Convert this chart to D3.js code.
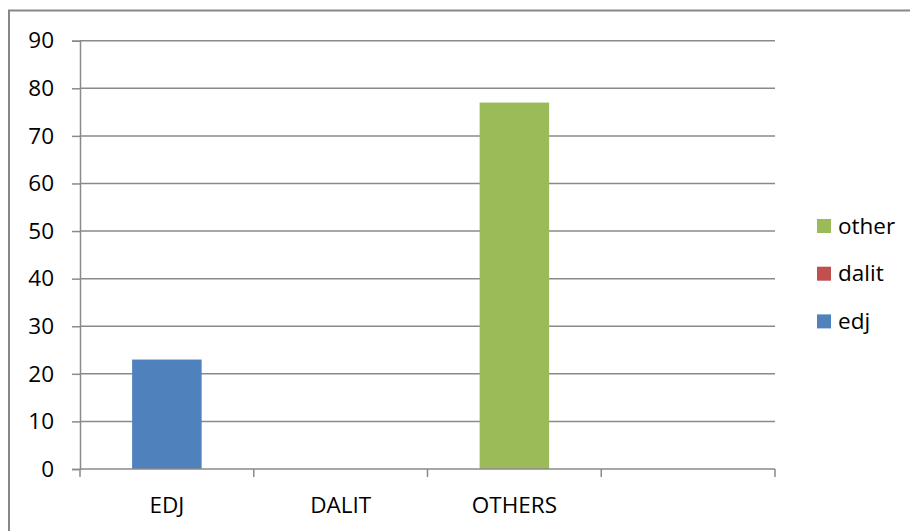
<!DOCTYPE html>
<html>
<head>
<meta charset="utf-8">
<script src="https://cdn.jsdelivr.net/npm/d3@7"></script>
<style>
  html, body { margin: 0; padding: 0; background: #fff; }
  svg { display: block; font-family: "Open Sans", "Noto Sans", sans-serif; }
</style>
</head>
<body>
<svg id="chart" width="910" height="531"></svg>
<script>
// Categories on the x axis (the fourth slot is empty)
const categories = ["EDJ", "DALIT", "OTHERS", ""];
// Stacked series values, one per category
const edj   = [23, 0, 0, 0];
const dalit = [0, 0, 0, 0];
const other = [0, 0, 77, 0];
const seriesNames = ["edj", "dalit", "other"];
const seriesColors = ["#4F81BD", "#C0504D", "#9BBB59"];
const yTicks = [0, 10, 20, 30, 40, 50, 60, 70, 80, 90];

const svg = d3.select("#chart");
const W = 910, H = 531;
const plot = { left: 80, right: 775, top: 40.7, bottom: 469 };

// Outer chart frame
svg.append("rect")
  .attr("x", 9).attr("y", 10.5)
  .attr("width", W + 10).attr("height", H + 10)
  .attr("fill", "#fff").attr("stroke", "#878787").attr("stroke-width", 2);

const x = d3.scaleBand().domain(d3.range(categories.length))
  .range([plot.left, plot.right]).padding(0);
const y = d3.scaleLinear().domain([0, 90]).range([plot.bottom, plot.top]);

// Horizontal gridlines
svg.append("g").selectAll("line").data(yTicks.filter(d => d > 0)).join("line")
  .attr("x1", plot.left).attr("x2", plot.right)
  .attr("y1", d => y(d)).attr("y2", d => y(d))
  .attr("stroke", "#8a8a8a").attr("stroke-width", 1.5);

// Stacked bars
const rows = categories.map((c, i) => ({ i, edj: edj[i], dalit: dalit[i], other: other[i] }));
const stacked = d3.stack().keys(seriesNames)(rows);
const barW = x.bandwidth() * 0.4;
stacked.forEach((layer, k) => {
  svg.append("g").selectAll("rect").data(layer.filter(d => d[1] - d[0] > 0)).join("rect")
    .attr("x", d => x(d.data.i) + (x.bandwidth() - barW) / 2)
    .attr("width", barW)
    .attr("y", d => y(d[1]))
    .attr("height", d => y(d[0]) - y(d[1]))
    .attr("fill", seriesColors[k]);
});

// Y axis
const yAxis = d3.axisLeft(y).tickValues(yTicks).tickSize(8).tickPadding(18);
const gy = svg.append("g").attr("transform", `translate(${plot.left},0)`).call(yAxis);
gy.select(".domain").attr("stroke", "#8a8a8a").attr("stroke-width", 1.5);
gy.selectAll(".tick line").attr("stroke", "#8a8a8a").attr("stroke-width", 1.5);
gy.selectAll(".tick text").attr("font-size", 22.5).attr("fill", "#000")
  .attr("font-family", "'Open Sans', sans-serif");

// X axis: ticks at category boundaries, labels centred in each band
const xBound = d3.scaleLinear().domain([0, categories.length]).range([plot.left, plot.right]);
const gx = svg.append("g").attr("transform", `translate(0,${plot.bottom})`);
gx.append("line").attr("x1", plot.left).attr("x2", plot.right)
  .attr("stroke", "#8a8a8a").attr("stroke-width", 1.5);
gx.selectAll("line.tk").data(d3.range(categories.length + 1)).join("line")
  .attr("class", "tk")
  .attr("x1", d => xBound(d)).attr("x2", d => xBound(d))
  .attr("y1", 0).attr("y2", 8)
  .attr("stroke", "#8a8a8a").attr("stroke-width", 1.5);
gx.selectAll("text").data(categories).join("text")
  .attr("x", (d, i) => x(i) + x.bandwidth() / 2)
  .attr("y", 44)
  .attr("text-anchor", "middle")
  .attr("font-size", 22.5).attr("fill", "#000")
  .text(d => d);

// Legend (reverse order: top series first)
const legendItems = seriesNames.map((n, k) => ({ n, c: seriesColors[k] })).reverse();
const lg = svg.append("g").selectAll("g").data(legendItems).join("g")
  .attr("transform", (d, i) => `translate(817,${219 + i * 47.7})`);
lg.append("rect").attr("width", 14).attr("height", 14).attr("fill", d => d.c);
lg.append("text").attr("x", 21).attr("y", 14.5)
  .attr("font-size", 22.5).attr("fill", "#000").text(d => d.n);
</script>
</body>
</html>
